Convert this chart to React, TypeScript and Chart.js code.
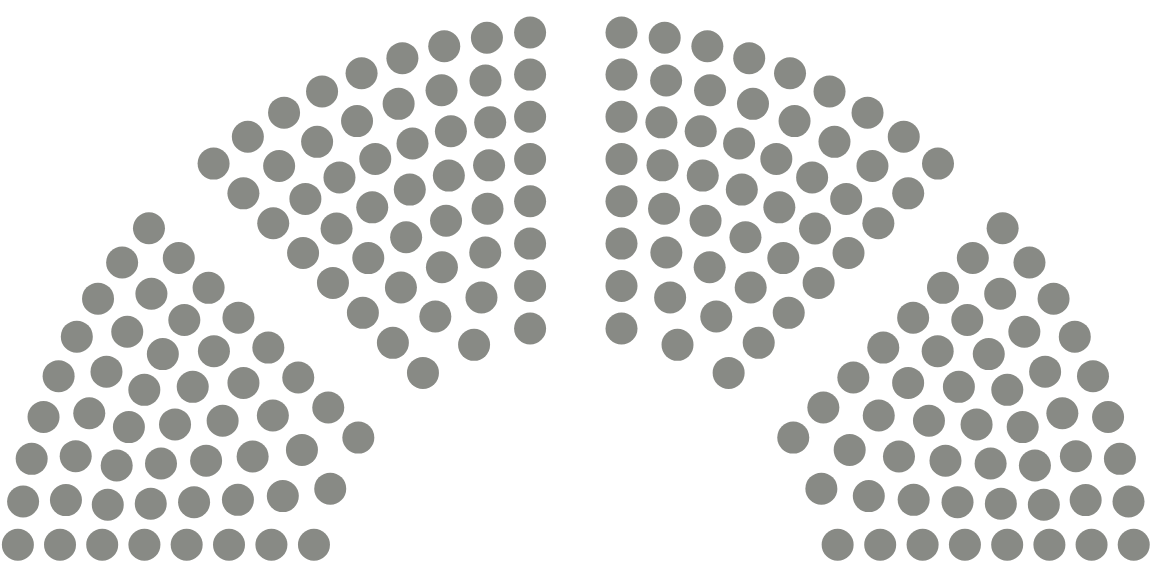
import { useEffect, useRef } from "react";
import { Chart, registerables } from "chart.js";

Chart.register(...registerables);

// ---- Data: seats per ring (inner -> outer) for each of the four groups ----
const groupNames = ["Group 1", "Group 2", "Group 3", "Group 4"];
const seatsPerRingGroup1 = [3, 4, 5, 6, 7, 8, 8, 9];
const seatsPerRingGroup2 = [3, 4, 5, 6, 7, 8, 8, 9];
const seatsPerRingGroup3 = [3, 4, 5, 6, 7, 8, 8, 9];
const seatsPerRingGroup4 = [3, 4, 5, 6, 7, 8, 8, 9];
const groupColors = ["#888a85", "#888a85", "#888a85", "#888a85"];

const groupSeats = [seatsPerRingGroup1, seatsPerRingGroup2, seatsPerRingGroup3, seatsPerRingGroup4];

// ---- Layout of the hemicycle ----
const INNER_RADIUS = 265.8;
const RING_SPACING = 42;
const SECTOR_GAP = 45.7; // perpendicular distance of seats from sector dividers
const SECTOR_SPAN = 180 / groupNames.length;

function seatPositions(groupIndex: number, rings: number[]) {
  const start = 180 - SECTOR_SPAN * groupIndex;
  const end = start - SECTOR_SPAN;
  const pts: { x: number; y: number }[] = [];
  rings.forEach((n, k) => {
    const r = INNER_RADIUS + k * RING_SPACING;
    const d = (Math.asin(SECTOR_GAP / r) * 180) / Math.PI;
    const a0 = start - d;
    const a1 = end + d;
    for (let j = 0; j < n; j++) {
      const a = n === 1 ? (a0 + a1) / 2 : a0 + ((a1 - a0) * j) / (n - 1);
      const rad = (a * Math.PI) / 180;
      pts.push({ x: r * Math.cos(rad), y: r * Math.sin(rad) });
    }
  });
  return pts;
}

export default function App() {
  const canvasRef = useRef<HTMLCanvasElement | null>(null);

  useEffect(() => {
    if (!canvasRef.current) return;
    const chart = new Chart(canvasRef.current, {
      type: "scatter",
      data: {
        datasets: groupNames.map((name, i) => ({
          label: name,
          data: seatPositions(i, groupSeats[i]),
          backgroundColor: groupColors[i],
          borderWidth: 0,
          pointRadius: 16,
          pointHoverRadius: 16,
          clip: false,
        })),
      },
      options: {
        animation: false,
        responsive: true,
        maintainAspectRatio: false,
        layout: { padding: 0, autoPadding: false },
        plugins: { legend: { display: false }, tooltip: { enabled: false } },
        scales: {
          x: { type: "linear", min: -575.8, max: 576.2, display: false },
          y: { type: "linear", min: 14.4, max: 590.4, display: false },
        },
      },
    });
    return () => chart.destroy();
  }, []);

  return (
    <div style={{ position: "fixed", left: 0, top: 0, width: 1152, height: 576, background: "#ffffff" }}>
      <canvas ref={canvasRef} />
    </div>
  );
}
